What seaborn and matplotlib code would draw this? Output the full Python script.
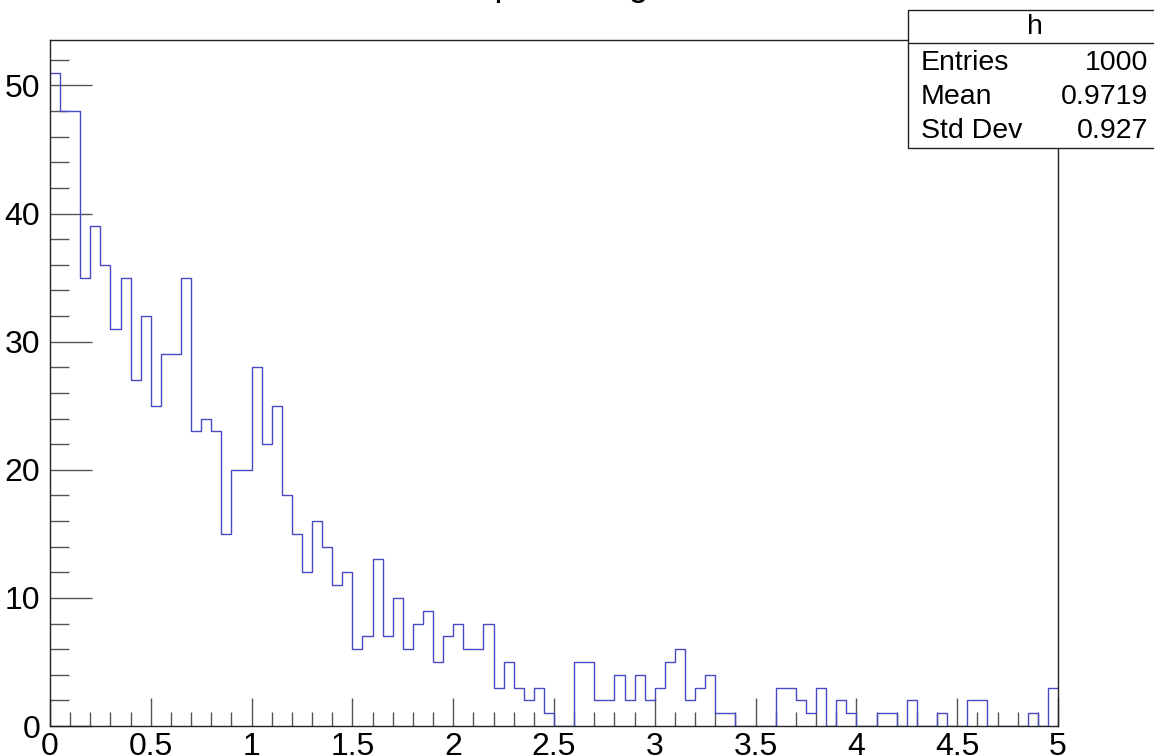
import numpy as np
import matplotlib
matplotlib.use("Agg")
import matplotlib.pyplot as plt
from matplotlib.patches import Rectangle
from matplotlib.lines import Line2D
from matplotlib.ticker import MultipleLocator
import seaborn as sns

# Histogram contents: 100 bins over [0, 5]
x_min, x_max, n_bins = 0.0, 5.0, 100
counts = [
    51, 48, 48, 35, 39, 36, 31, 35, 27, 32,
    25, 29, 29, 35, 23, 24, 23, 15, 20, 20,
    28, 22, 25, 18, 15, 12, 16, 14, 11, 12,
    6, 7, 13, 7, 10, 6, 8, 9, 5, 7,
    8, 6, 6, 8, 3, 5, 3, 2, 3, 1,
    0, 0, 5, 5, 2, 2, 4, 2, 4, 2,
    3, 5, 6, 2, 3, 4, 1, 1, 0, 0,
    0, 0, 3, 3, 2, 1, 3, 0, 2, 1,
    0, 0, 1, 1, 0, 2, 0, 0, 1, 0,
    0, 2, 2, 0, 0, 0, 0, 1, 0, 3,
]
title = "Example histogram"
stats_name = "h"
stats_labels = ["Entries", "Mean", "Std Dev"]
stats_values = ["1000", "0.9719", "0.927"]

edges = np.linspace(x_min, x_max, n_bins + 1)
centers = 0.5 * (edges[:-1] + edges[1:])

sns.set_style("ticks")
plt.rcParams["font.family"] = ["Liberation Sans", "DejaVu Sans"]
plt.rcParams["text.color"] = "black"
plt.rcParams["xtick.labelcolor"] = "black"
plt.rcParams["ytick.labelcolor"] = "black"

W, H = 1154, 755
fig = plt.figure(figsize=(W / 100, H / 100), dpi=100)
ax = fig.add_axes([50 / W, 1 - 726 / H, (1058 - 50) / W, (726 - 40) / H])

sns.histplot(x=centers, weights=counts, bins=n_bins, binrange=(x_min, x_max),
             element="step", fill=False, color="#4a4ac4", linewidth=1.0, ax=ax)

ax.set_xlim(x_min, x_max)
ax.set_ylim(0, max(counts) * 1.05)
ax.set_xlabel("")
ax.set_ylabel("")

ax.xaxis.set_major_locator(MultipleLocator(0.5))
ax.xaxis.set_minor_locator(MultipleLocator(0.1))
ax.yaxis.set_major_locator(MultipleLocator(10))
ax.yaxis.set_minor_locator(MultipleLocator(2))
ax.xaxis.set_major_formatter(plt.FuncFormatter(lambda v, p: f"{v:g}"))

ax.tick_params(axis="x", which="major", direction="in", length=20, width=1,
               color="#555555", labelsize=23, pad=4)
ax.tick_params(axis="x", which="minor", direction="in", length=10, width=1, color="#555555")
ax.tick_params(axis="y", which="major", direction="in", length=30, width=1,
               color="#555555", labelsize=23, pad=7)
ax.tick_params(axis="y", which="minor", direction="in", length=14, width=1, color="#555555")
for s in ax.spines.values():
    s.set_visible(True)
    s.set_color("#222222")
    s.set_linewidth(1)

# title, mostly cut off at the top edge
fig.text(556 / W, 1 + 5 / H, title, ha="center", va="baseline", fontsize=26)

# statistics box
bx0, btop, bbot = 908 / W, 1 - 10 / H, 1 - 148 / H
fig.add_artist(Rectangle((bx0, bbot), 1.0, btop - bbot, transform=fig.transFigure,
                         facecolor="white", edgecolor="#222222", linewidth=1, zorder=5))
fig.add_artist(Line2D([bx0, 1.0], [1 - 43 / H] * 2, transform=fig.transFigure,
                      color="#222222", linewidth=1, zorder=6))
fig.text(1035 / W, 1 - 27 / H, stats_name, ha="center", va="center", fontsize=20.5, zorder=7)
for i, (lab, val) in enumerate(zip(stats_labels, stats_values)):
    yy = 1 - (63 + 34 * i) / H
    fig.text(921 / W, yy, lab, ha="left", va="center", fontsize=20.5, zorder=7)
    fig.text(1148 / W, yy, val, ha="right", va="center", fontsize=20.5, zorder=7)

fig.savefig("out.png", dpi=100)
